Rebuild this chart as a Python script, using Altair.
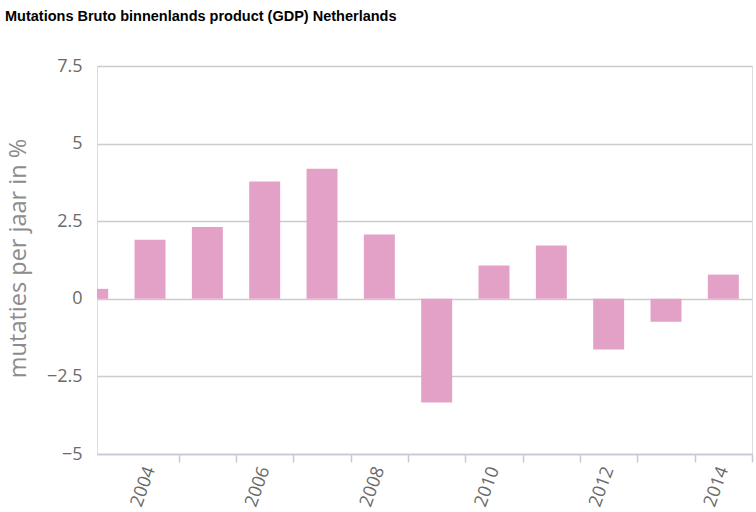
import altair as alt
import pandas as pd

# ---- data ----
years = [2003, 2004, 2005, 2006, 2007, 2008, 2009, 2010, 2011, 2012, 2013, 2014]
growth = [0.32, 1.90, 2.31, 3.78, 4.19, 2.07, -3.34, 1.07, 1.72, -1.63, -0.74, 0.78]
y_ticks = [-5, -2.5, 0, 2.5, 5, 7.5]
x_ticks = [2004, 2005, 2006, 2007, 2008, 2009, 2010, 2011, 2012, 2013, 2014]

df = pd.DataFrame({"year": years, "growth": growth})

W, H = 655, 388
x_domain = [2003.075, 2014.5]
half_year_px = W / (x_domain[1] - x_domain[0]) / 2

FONT = "Open Sans"

bars = (
    alt.Chart(df)
    .transform_calculate(x0="datum.year - 0.27", x1="datum.year + 0.27")
    .mark_bar(color="#e3a1c7", clip=True)
    .encode(
        x=alt.X(
            "x0:Q",
            scale=alt.Scale(domain=x_domain, nice=False, zero=False),
            axis=alt.Axis(
                title=None,
                values=x_ticks,
                format="d",
                labelExpr="datum.value % 2 == 0 ? datum.label : ''",
                tickOffset=half_year_px,
                labelOffset=-half_year_px,
                labelAngle=-70,
                labelAlign="right",
                labelBaseline="middle",
                labelPadding=5,
                labelFlush=False,
                labelOverlap=False,
                labelFont=FONT,
                labelFontSize=18,
                labelColor="#6a6a6a",
                tickSize=8,
                tickWidth=1.5,
                tickColor="#c5cad5",
                domainColor="#c5cad5",
                domainWidth=1.5,
                grid=False,
            ),
        ),
        x2="x1:Q",
        y=alt.Y(
            "growth:Q",
            scale=alt.Scale(domain=[-5, 7.5], nice=False, zero=False),
            axis=alt.Axis(
                title="mutaties per jaar in %",
                titleFont=FONT,
                titleFontSize=23.5,
                titleFontWeight="normal",
                titleColor="#8c8c8c",
                titleX=-79,
                titleY=192,
                titleAngle=-90,
                titleAlign="center",
                titleBaseline="middle",
                values=y_ticks,
                labelExpr="format(datum.value, '.2~g')",
                labelFont=FONT,
                labelFontSize=18,
                labelColor="#6a6a6a",
                labelPadding=15,
                ticks=False,
                domain=False,
                grid=True,
                gridColor="#cccccc",
                gridWidth=1.5,
            ),
        ),
        y2=alt.datum(0),
    )
)

chart = (
    bars.properties(
        width=W,
        height=H,
        autosize=alt.AutoSizeParams(type="none"),
        padding={"left": 97, "top": 66, "right": 4, "bottom": 58},
        title=alt.TitleParams(
            "Mutations Bruto binnenlands product (GDP) Netherlands",
            anchor="start",
            frame="group",
            dx=-92,
            offset=22,
            baseline="alphabetic",
            font="Liberation Sans",
            fontSize=14.5,
            fontWeight="bold",
            color="#000000",
        ),
    )
    .configure_view(stroke=None)
    .configure(background="white")
)

chart.save("out.html", embed_options={"renderer": "svg", "actions": False})
